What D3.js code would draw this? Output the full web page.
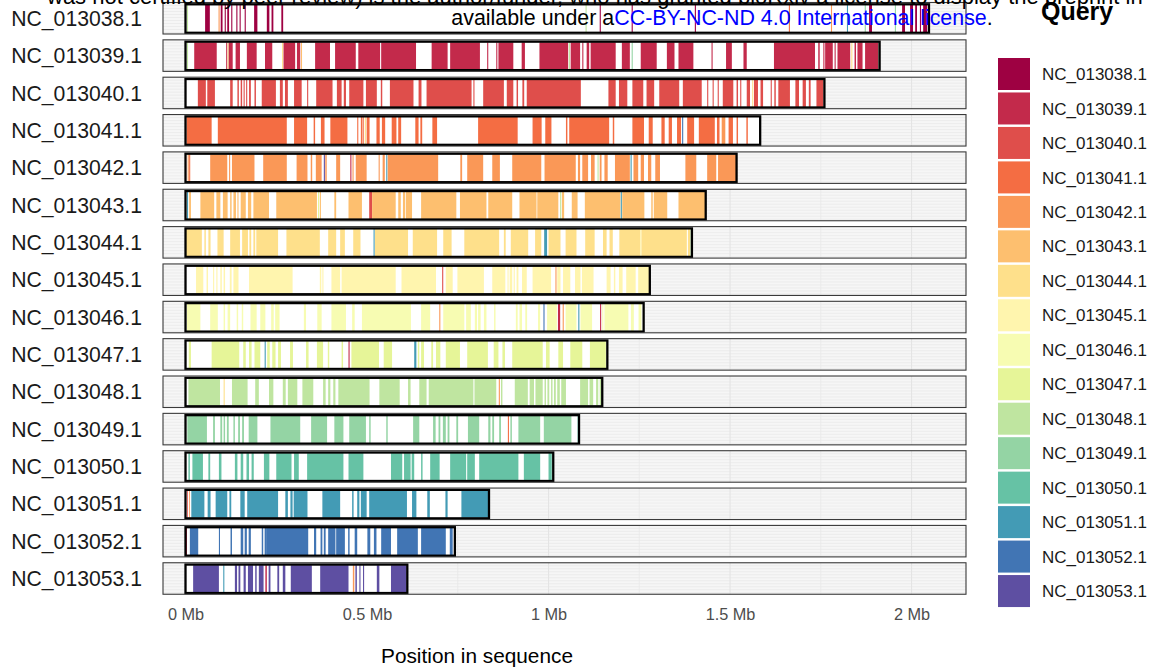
<!DOCTYPE html>
<html><head><meta charset="utf-8">
<script src="https://cdn.jsdelivr.net/npm/d3@7"></script>
<style>body{margin:0;background:#fff;} svg{display:block;font-family:"Liberation Sans",Arial,Helvetica,sans-serif;}</style>
</head><body><svg id="chart" width="1149" height="671"></svg>
<script>
const chromosomes = ["NC_013038.1","NC_013039.1","NC_013040.1","NC_013041.1","NC_013042.1","NC_013043.1","NC_013044.1","NC_013045.1","NC_013046.1","NC_013047.1","NC_013048.1","NC_013049.1","NC_013050.1","NC_013051.1","NC_013052.1","NC_013053.1"];
const chromLengthsMb = [2.048,1.912,1.760,1.583,1.518,1.433,1.395,1.279,1.262,1.162,1.148,1.084,1.013,0.836,0.742,0.611];
const queries = chromosomes.slice();
const spectral11 = ["#9E0142","#D53E4F","#F46D43","#FDAE61","#FEE08B","#FFFFBF","#E6F598","#ABDDA4","#66C2A5","#3288BD","#5E4FA2"];
const xTicks = [0,0.5,1,1.5,2];
const xTickLabels = ["0 Mb","0.5 Mb","1 Mb","1.5 Mb","2 Mb"];
const xMinorTicks = [0.25,0.75,1.25,1.75];

// blocks: [start Mb, end Mb, query index]
const b038 = [[0.004,0.007,10],[0.054,0.067,0],[0.091,0.094,4],[0.097,0.102,0],[0.108,0.111,0],[0.115,0.120,0],[0.126,0.129,0],[0.140,0.143,0],[0.149,0.152,0],[0.163,0.166,0],[0.189,0.198,0],[0.224,0.231,0],[0.237,0.242,0],[0.264,0.269,0],[1.102,1.105,10],[1.141,1.144,0],[1.229,1.232,0],[1.403,1.406,0],[1.662,1.665,3],[1.778,1.781,4],[1.822,1.825,13],[1.871,1.874,11],[1.883,1.891,0],[1.954,1.957,11],[1.974,1.982,0],[1.996,2.004,0],[2.010,2.015,0],[2.023,2.026,0],[2.032,2.043,0]];
const b039 = [[0.004,0.007,10],[0.024,0.086,1],[0.112,0.115,1],[0.116,0.119,6],[0.119,0.130,1],[0.138,0.150,1],[0.169,0.196,1],[0.219,0.239,1],[0.266,0.269,6],[0.270,0.302,1],[0.307,0.316,1],[0.318,0.321,5],[0.357,0.398,1],[0.412,0.469,1],[0.476,0.536,1],[0.539,0.635,1],[0.678,0.722,1],[0.729,0.811,1],[0.831,0.834,1],[0.856,0.859,1],[0.862,0.903,1],[0.926,0.935,1],[0.975,1.054,1],[1.056,1.059,10],[1.061,1.087,1],[1.093,1.096,1],[1.105,1.112,1],[1.116,1.185,1],[1.202,1.224,1],[1.229,1.232,11],[1.254,1.298,1],[1.326,1.347,1],[1.358,1.399,1],[1.449,1.452,1],[1.489,1.505,1],[1.537,1.546,1],[1.621,1.734,1],[1.743,1.747,1],[1.757,1.760,1],[1.762,1.783,1],[1.788,1.791,1],[1.796,1.831,1],[1.834,1.837,6],[1.843,1.847,1],[1.851,1.865,1],[1.872,1.909,1],[1.909,1.912,11]];
const b040 = [[0.034,0.056,2],[0.060,0.081,2],[0.123,0.130,2],[0.143,0.147,2],[0.152,0.156,2],[0.160,0.163,2],[0.167,0.170,2],[0.175,0.180,2],[0.190,0.194,2],[0.210,0.249,2],[0.260,0.268,2],[0.274,0.282,2],[0.299,0.320,2],[0.335,0.338,2],[0.360,0.405,2],[0.417,0.430,2],[0.436,0.442,2],[0.451,0.490,2],[0.497,0.527,2],[0.538,0.542,2],[0.563,0.628,2],[0.642,0.650,2],[0.664,0.788,2],[0.793,0.796,2],[0.820,0.877,2],[0.885,0.903,2],[0.912,0.916,2],[0.928,0.933,2],[0.940,1.089,2],[1.165,1.185,2],[1.194,1.217,2],[1.231,1.261,2],[1.270,1.291,2],[1.305,1.360,2],[1.370,1.422,2],[1.437,1.440,2],[1.452,1.455,2],[1.466,1.469,2],[1.480,1.509,2],[1.518,1.522,2],[1.528,1.531,2],[1.546,1.555,2],[1.561,1.564,6],[1.566,1.577,2],[1.584,1.591,2],[1.612,1.615,2],[1.622,1.626,2],[1.633,1.665,2],[1.680,1.690,2],[1.700,1.709,2],[1.717,1.722,2],[1.738,1.757,2]];
const b041 = [[0.003,0.072,3],[0.089,0.279,3],[0.299,0.335,3],[0.353,0.357,3],[0.373,0.383,3],[0.399,0.446,3],[0.473,0.476,3],[0.483,0.487,3],[0.488,0.491,3],[0.494,0.497,6],[0.499,0.507,3],[0.526,0.535,3],[0.541,0.550,3],[0.568,0.581,3],[0.586,0.594,3],[0.633,0.642,3],[0.647,0.652,3],[0.680,0.693,3],[0.806,0.915,3],[0.956,0.981,3],[0.991,1.008,3],[1.048,1.052,3],[1.057,1.167,3],[1.177,1.181,3],[1.231,1.263,3],[1.276,1.287,3],[1.311,1.320,3],[1.331,1.340,3],[1.354,1.365,3],[1.368,1.371,14],[1.382,1.401,3],[1.414,1.458,3],[1.464,1.471,3],[1.477,1.487,4],[1.496,1.508,3],[1.518,1.522,3],[1.545,1.549,3]];
const b042 = [[0.006,0.009,4],[0.010,0.013,3],[0.068,0.115,4],[0.120,0.123,4],[0.128,0.190,4],[0.214,0.279,4],[0.306,0.336,4],[0.345,0.349,4],[0.359,0.375,4],[0.381,0.384,15],[0.385,0.389,4],[0.415,0.426,4],[0.454,0.457,1],[0.460,0.463,4],[0.469,0.499,4],[0.532,0.535,4],[0.543,0.549,4],[0.553,0.556,13],[0.557,0.696,4],[0.757,0.762,4],[0.776,0.820,4],[0.845,0.866,4],[0.900,0.980,4],[0.989,1.075,4],[1.081,1.087,4],[1.093,1.109,4],[1.117,1.127,4],[1.135,1.138,10],[1.141,1.146,4],[1.154,1.163,4],[1.183,1.224,4],[1.226,1.229,13],[1.234,1.247,4],[1.254,1.263,4],[1.274,1.283,4],[1.294,1.307,4],[1.377,1.407,4],[1.437,1.462,4],[1.467,1.518,4]];
const b043 = [[0.004,0.007,13],[0.010,0.015,5],[0.041,0.079,5],[0.085,0.096,5],[0.103,0.116,5],[0.123,0.127,5],[0.132,0.139,5],[0.143,0.146,5],[0.152,0.166,5],[0.172,0.181,5],[0.187,0.230,5],[0.250,0.362,5],[0.365,0.368,9],[0.370,0.373,5],[0.410,0.415,5],[0.449,0.486,5],[0.506,0.514,2],[0.514,0.579,5],[0.586,0.593,5],[0.599,0.605,5],[0.607,0.624,5],[0.649,0.746,5],[0.756,0.829,5],[0.834,0.900,5],[0.920,0.967,5],[0.969,1.027,5],[1.032,1.035,10],[1.037,1.043,5],[1.064,1.080,5],[1.100,1.198,5],[1.199,1.202,13],[1.203,1.264,5],[1.283,1.287,5],[1.290,1.327,5],[1.358,1.433,5]];
const b044 = [[0.001,0.045,6],[0.052,0.056,6],[0.063,0.069,6],[0.088,0.105,6],[0.123,0.150,6],[0.156,0.172,6],[0.176,0.181,6],[0.187,0.192,6],[0.195,0.255,6],[0.278,0.370,6],[0.393,0.415,6],[0.426,0.439,6],[0.462,0.482,6],[0.518,0.521,13],[0.522,0.613,6],[0.626,0.693,6],[0.710,0.733,6],[0.768,0.864,6],[0.877,0.882,6],[0.896,0.944,6],[0.963,0.980,6],[0.988,0.996,13],[1.000,1.033,6],[1.047,1.077,6],[1.101,1.127,6],[1.150,1.160,6],[1.168,1.177,6],[1.195,1.253,6],[1.253,1.256,7],[1.256,1.381,6],[1.384,1.390,6],[1.391,1.394,10]];
const b045 = [[0.029,0.049,7],[0.058,0.062,7],[0.076,0.079,7],[0.085,0.088,7],[0.096,0.100,7],[0.105,0.109,7],[0.122,0.127,7],[0.132,0.146,7],[0.175,0.295,7],[0.370,0.374,7],[0.377,0.380,7],[0.402,0.426,7],[0.430,0.579,7],[0.595,0.690,7],[0.707,0.710,2],[0.717,0.736,7],[0.749,0.822,7],[0.845,0.881,7],[0.887,0.890,7],[0.893,0.900,7],[0.904,0.907,7],[0.912,0.917,7],[0.927,0.940,7],[0.956,1.007,7],[1.019,1.022,4],[1.024,1.033,7],[1.040,1.060,7],[1.073,1.088,7],[1.092,1.124,7],[1.160,1.171,7],[1.180,1.184,7],[1.194,1.204,7],[1.214,1.240,7],[1.247,1.278,7]];
const b046 = [[0.004,0.041,8],[0.068,0.089,8],[0.105,0.109,8],[0.116,0.123,8],[0.141,0.145,8],[0.155,0.159,8],[0.179,0.196,8],[0.206,0.220,8],[0.236,0.243,8],[0.247,0.259,8],[0.326,0.332,8],[0.363,0.375,8],[0.402,0.442,8],[0.459,0.466,8],[0.486,0.621,8],[0.649,0.674,8],[0.699,0.702,4],[0.710,0.768,8],[0.773,0.786,8],[0.797,0.803,8],[0.806,0.813,8],[0.822,0.829,8],[0.850,0.854,8],[0.910,0.915,8],[0.920,0.927,8],[0.936,0.941,8],[0.971,0.977,8],[0.986,0.989,14],[0.996,1.023,8],[1.026,1.032,1],[1.039,1.042,4],[1.047,1.077,8],[1.082,1.085,13],[1.088,1.120,8],[1.142,1.145,1],[1.148,1.151,8],[1.154,1.220,8],[1.227,1.235,8],[1.248,1.256,8]];
const b047 = [[0.009,0.015,9],[0.072,0.148,9],[0.159,0.166,9],[0.175,0.182,9],[0.190,0.206,9],[0.218,0.221,13],[0.225,0.232,9],[0.239,0.248,9],[0.255,0.263,9],[0.288,0.296,9],[0.332,0.339,9],[0.362,0.379,9],[0.392,0.396,9],[0.430,0.434,9],[0.449,0.452,1],[0.457,0.533,9],[0.546,0.569,9],[0.630,0.636,13],[0.640,0.644,9],[0.649,0.657,9],[0.677,0.682,9],[0.690,0.702,9],[0.717,0.756,9],[0.776,0.833,9],[0.849,0.862,9],[0.873,0.880,9],[0.900,0.984,9],[0.993,1.003,9],[1.027,1.040,9],[1.060,1.093,9],[1.114,1.158,9]];
const b048 = [[0.008,0.095,10],[0.105,0.108,6],[0.128,0.171,10],[0.192,0.202,10],[0.230,0.242,10],[0.268,0.276,10],[0.282,0.308,10],[0.322,0.352,10],[0.379,0.386,10],[0.393,0.399,10],[0.407,0.413,10],[0.421,0.507,10],[0.534,0.590,10],[0.613,0.620,10],[0.644,0.664,10],[0.670,0.793,10],[0.796,0.856,10],[0.863,0.866,4],[0.869,0.873,10],[0.907,0.943,10],[0.948,0.960,10],[0.964,0.984,10],[0.989,0.993,10],[0.997,1.002,10],[1.007,1.011,10],[1.015,1.020,10],[1.024,1.031,10],[1.035,1.048,10],[1.087,1.109,10],[1.113,1.123,10],[1.131,1.137,10],[1.141,1.146,10]];
const b049 = [[0.005,0.059,11],[0.076,0.081,11],[0.096,0.101,11],[0.105,0.109,11],[0.114,0.119,11],[0.132,0.136,11],[0.145,0.150,11],[0.156,0.161,11],[0.174,0.198,11],[0.234,0.316,11],[0.346,0.390,11],[0.410,0.435,11],[0.451,0.497,11],[0.506,0.510,11],[0.553,0.557,11],[0.627,0.644,11],[0.682,0.689,11],[0.697,0.702,11],[0.709,0.717,11],[0.722,0.727,11],[0.746,0.751,11],[0.778,0.809,11],[0.834,0.840,11],[0.845,0.850,11],[0.864,0.869,11],[0.888,0.891,3],[0.895,0.899,11],[0.917,0.977,11],[0.987,1.063,11],[1.080,1.084,12]];
const b050 = [[0.008,0.012,12],[0.019,0.048,12],[0.063,0.068,12],[0.092,0.099,12],[0.136,0.143,12],[0.152,0.159,12],[0.168,0.175,12],[0.182,0.188,12],[0.216,0.231,12],[0.250,0.292,12],[0.299,0.312,12],[0.335,0.435,12],[0.449,0.490,12],[0.566,0.597,12],[0.602,0.620,12],[0.623,0.630,12],[0.649,0.653,12],[0.674,0.700,12],[0.729,0.773,12],[0.776,0.797,12],[0.809,0.917,12],[0.932,0.977,12],[1.000,1.009,12]];
const b051 = [[0.004,0.006,2],[0.010,0.012,4],[0.016,0.052,13],[0.061,0.069,13],[0.083,0.115,13],[0.121,0.126,13],[0.151,0.163,13],[0.170,0.255,13],[0.275,0.282,13],[0.289,0.295,13],[0.298,0.336,13],[0.377,0.426,13],[0.459,0.463,13],[0.473,0.479,13],[0.483,0.499,13],[0.506,0.610,13],[0.624,0.636,13],[0.666,0.673,13],[0.716,0.722,13],[0.760,0.835,13]];
const b052 = [[0.000,0.004,1],[0.012,0.035,14],[0.092,0.095,14],[0.124,0.128,14],[0.152,0.159,14],[0.163,0.169,14],[0.174,0.180,14],[0.210,0.214,14],[0.218,0.222,14],[0.222,0.338,14],[0.354,0.360,14],[0.372,0.377,14],[0.381,0.386,14],[0.393,0.413,14],[0.415,0.439,14],[0.448,0.452,14],[0.466,0.473,14],[0.501,0.509,14],[0.519,0.526,14],[0.539,0.566,14],[0.583,0.640,14],[0.649,0.717,14],[0.728,0.736,14]];
const b053 = [[0.021,0.092,15],[0.104,0.107,13],[0.136,0.142,15],[0.146,0.151,15],[0.160,0.166,15],[0.172,0.186,15],[0.192,0.196,15],[0.202,0.215,15],[0.220,0.224,1],[0.229,0.234,15],[0.253,0.258,15],[0.268,0.275,15],[0.290,0.348,15],[0.371,0.449,15],[0.461,0.465,4],[0.468,0.472,15],[0.479,0.482,15],[0.489,0.492,15],[0.527,0.534,15],[0.566,0.609,15]];
const blocksByChrom = [b038,b039,b040,b041,b042,b043,b044,b045,b046,b047,b048,b049,b050,b051,b052,b053];

const colors = d3.quantize(d3.piecewise(d3.interpolateRgb, spectral11), queries.length);
const color = d3.scaleOrdinal().domain(d3.range(queries.length)).range(colors);

const svg = d3.select("#chart");
const x = d3.scaleLinear().domain([-0.062, 2.150]).range([163, 966]);
const y = d3.scaleBand().domain(chromosomes).range([2.5, 594.25]).paddingInner(0.157).paddingOuter(0);
const bw = y.bandwidth();

const rows = svg.append("g").selectAll("g.row").data(chromosomes).join("g")
  .attr("class","row").attr("transform", d => `translate(0,${y(d)})`);

rows.append("rect").attr("x", x.range()[0]).attr("y", 0).attr("width", x.range()[1]-x.range()[0]).attr("height", bw).attr("fill", "#F6F6F6");
rows.each(function(){
  const g = d3.select(this);
  g.selectAll("line.h").data(d3.range(3, bw, 3)).join("line").attr("class","h")
    .attr("x1", x.range()[0]).attr("x2", x.range()[1]).attr("y1", d=>d).attr("y2", d=>d)
    .attr("stroke", "#E6E6E6").attr("stroke-width", 0.6);
  g.selectAll("line.vmin").data(xMinorTicks).join("line").attr("class","vmin")
    .attr("x1", d=>x(d)).attr("x2", d=>x(d)).attr("y1", 0).attr("y2", bw)
    .attr("stroke", "#E8E8E8").attr("stroke-width", 0.8);
  g.selectAll("line.vmaj").data(xTicks).join("line").attr("class","vmaj")
    .attr("x1", d=>x(d)).attr("x2", d=>x(d)).attr("y1", 0).attr("y2", bw)
    .attr("stroke", "#E4E4E4").attr("stroke-width", 1.1);
});

rows.append("rect").attr("x", x(0)).attr("y", 1.8).attr("width", (d,i)=>x(chromLengthsMb[i])-x(0)).attr("height", bw-3)
  .attr("fill", "#fff");
rows.each(function(d,i){
  d3.select(this).selectAll("rect.blk").data(blocksByChrom[i]).join("rect").attr("class","blk")
    .attr("x", b=>x(b[0])).attr("width", b=>Math.max(0.8, x(b[1])-x(b[0])))
    .attr("y", 2.4).attr("height", bw-4.2).attr("fill", b=>color(b[2]));
});
rows.append("rect").attr("x", x(0)).attr("y", 1.8).attr("width", (d,i)=>x(chromLengthsMb[i])-x(0)).attr("height", bw-3)
  .attr("fill", "none").attr("stroke", "#000").attr("stroke-width", 2.3);
rows.append("rect").attr("x", x.range()[0]).attr("y", 0).attr("width", x.range()[1]-x.range()[0]).attr("height", bw)
  .attr("fill", "none").attr("stroke", "#3a3a3a").attr("stroke-width", 1.1);

svg.append("g").selectAll("text").data(chromosomes).join("text")
  .attr("x", 142).attr("y", d=>y(d)+bw/2).attr("dy","0.36em").attr("text-anchor","end")
  .attr("font-size", 21.2).attr("fill", "#1a1a1a").text(d=>d);

const axis = d3.axisBottom(x).tickValues(xTicks).tickFormat((d,i)=>xTickLabels[i]).tickSize(0).tickPadding(14);
const ag = svg.append("g").attr("transform", `translate(0,${594.25})`).call(axis);
ag.select(".domain").remove();
ag.selectAll("text").attr("font-size", 16.3).attr("fill", "#4D4D4D").attr("font-family", "Liberation Sans, Arial, sans-serif");

svg.append("text").attr("x", 477).attr("y", 656).attr("dy","0.36em").attr("text-anchor","middle")
  .attr("font-size", 20.8).attr("fill", "#000").text("Position in sequence");

const lg = svg.append("g");
lg.append("text").attr("x", 1041).attr("y", 20).attr("font-size", 25).attr("font-weight", "bold").attr("fill","#000").text("Query");
const items = lg.selectAll("g.item").data(queries).join("g").attr("class","item")
  .attr("transform", (d,i)=>`translate(998,${58 + i*34.47})`);
items.append("rect").attr("width", 32).attr("height", 32).attr("fill", (d,i)=>color(i));
items.append("text").attr("x", 44).attr("y", 16).attr("dy","0.36em").attr("font-size", 17).attr("fill","#1a1a1a").text(d=>d);

svg.append("text").attr("x", 47).attr("y", 4).attr("font-size", 22).attr("fill","#000")
  .text("was not certified by peer review) is the author/funder, who has granted bioRxiv a license to display the preprint in perpetuity. It is made");
const wm = svg.append("text").attr("x", 722).attr("y", 24.5).attr("text-anchor","middle").attr("font-size", 21.4).attr("fill","#000");
wm.append("tspan").text("available under a");
wm.append("tspan").attr("fill","#0000FF").text("CC-BY-NC-ND 4.0 International license");
wm.append("tspan").text(".");
</script></body></html>
